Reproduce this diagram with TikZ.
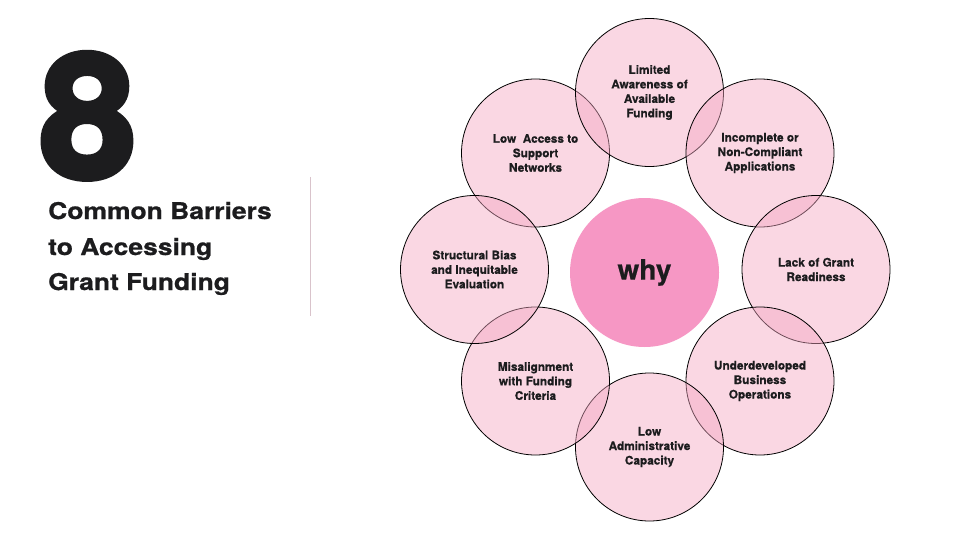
\documentclass[tikz,border=0pt]{standalone}
\usepackage{fontspec}
\setmainfont{TeX Gyre Heros}[BoldFeatures={FakeBold=0.6}]
\newfontfamily\titlefont[FakeStretch=1.15, BoldFeatures={FakeBold=0.8}]{TeX Gyre Heros}
\newfontfamily\eightfont[FakeStretch=1.0, BoldFeatures={FakeBold=4}]{TeX Gyre Heros}
\definecolor{ringpink}{HTML}{F4A8C3}
\definecolor{centerpink}{HTML}{F697C4}
\definecolor{textdark}{HTML}{1C1C1E}
\definecolor{divider}{HTML}{D9C3CB}
\tikzset{
  outer/.style={circle, minimum size=148pt, inner sep=0pt, draw=black, line width=0.8pt,
    fill=ringpink, fill opacity=0.45, text opacity=1, align=center, text=textdark,
    font=\bfseries\fontsize{11.8}{14.5}\selectfont},
  hub/.style={circle, minimum size=149pt, inner sep=0pt, fill=centerpink, text=textdark,
    font=\bfseries\fontsize{28}{30}\selectfont},
  titleline/.style={anchor=base west, inner sep=0pt, text=textdark,
    font=\titlefont\bfseries\fontsize{23}{30}\selectfont}
}
\begin{document}
\begin{tikzpicture}[x=1pt,y=-1pt]
\fill[white] (0,0) rectangle (960,540);
\useasboundingbox (0,0) rectangle (960,540);

% left title
\node[anchor=base west, inner sep=0pt, text depth=0pt, text=textdark, font=\eightfont\bfseries\fontsize{171}{171}\selectfont] (eight) at (40,177) {8};
\node[titleline] (t1) at (48,219) {Common Barriers};
\node[titleline] (t2) at (48,255) {to Accessing};
\node[titleline] (t3) at (48,290) {Grant Funding};
\coordinate (d1) at (310.5,177);
\coordinate (d2) at (310.5,316);
\draw[divider, line width=0.8pt] (d1) -- (d2);

% centre
\node[hub] (why) at (644.5,272.5) {why};

% ring
\node[outer] (tl) at (535.5,153) {Low~ Access to\\Support\\Networks};
\node[outer] (t) at (649.5,92.5) {Limited\\Awareness of\\Available\\Funding};
\node[outer] (tr) at (760,153) {Incomplete or\\Non-Compliant\\Applications};
\node[outer] (r) at (816,269.5) {Lack of Grant\\Readiness};
\node[outer] (br) at (760,381) {Underdeveloped\\Business\\Operations};
\node[outer] (b) at (649.5,447) {Low\\Administrative\\Capacity};
\node[outer] (bl) at (535.5,381) {Misalignment\\with Funding\\Criteria};
\node[outer] (l) at (474.5,269.5) {Structural Bias\\and Inequitable\\Evaluation};
\end{tikzpicture}
\end{document}
